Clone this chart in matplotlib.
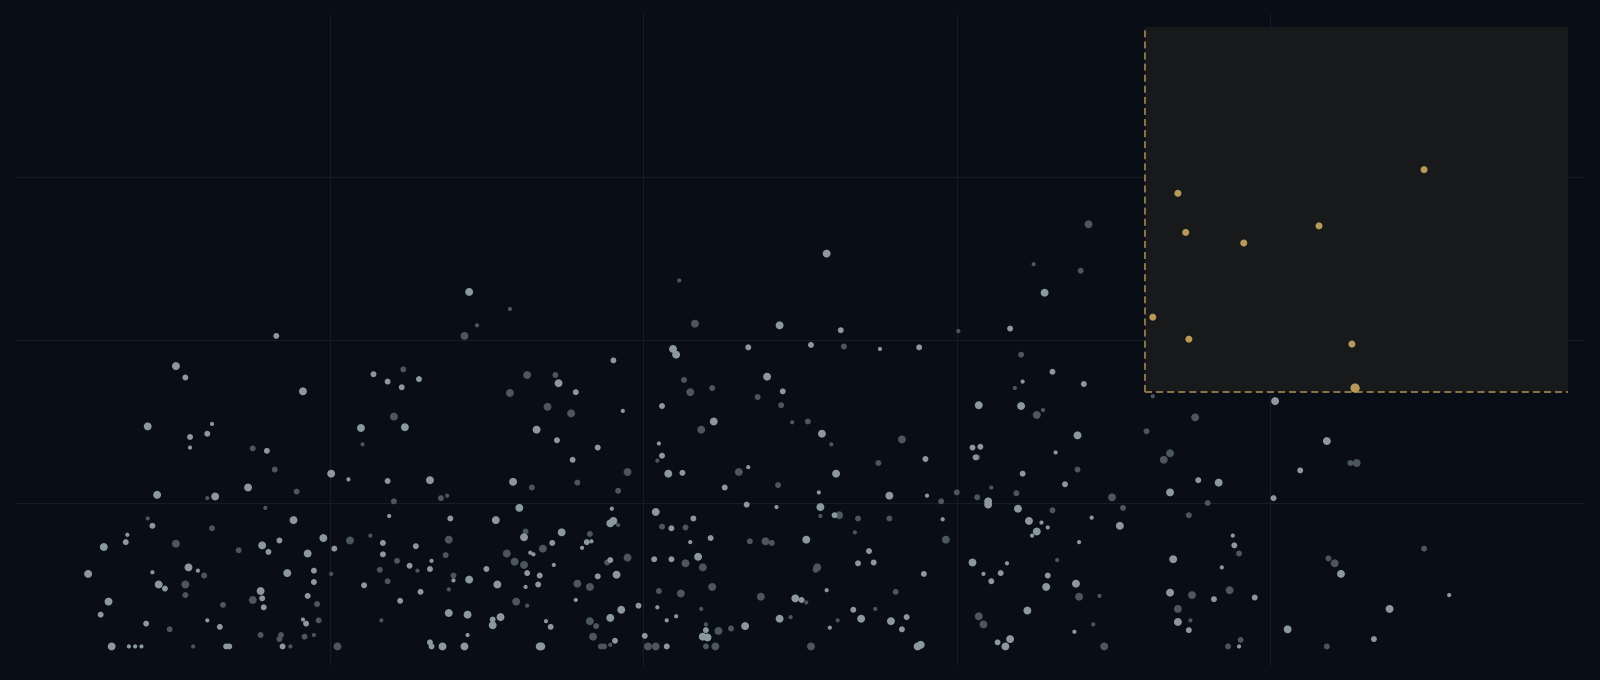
import matplotlib
matplotlib.use('Agg')
import matplotlib.pyplot as plt
from matplotlib.patches import Rectangle

BG = '#090d15'
GRID = '#181d25'
BRIGHT = '#8c989f'
DIM = '#4c565d'
GOLD = '#b8995a'
GOLD_EDGE = '#8c7548'
ZONE_FILL = '#18191a'

# bright points: x, y, weight (1 small .. 3 large)
bright_x = [28.9, 16.6, 10.2, 10.8, 22.8, 23.7, 25.7, 24.6, 18.3, 8.4, 12.5, 11.1, 12.2, 11.1, 16.0, 22.0, 24.8,
            20.1, 21.2, 23.7, 26.4, 31.7, 9.0, 12.7, 14.8, 32.1, 30.6, 27.7, 23.8, 17.7, 8.7, 7.1, 7.0, 5.6, 15.7,
            16.1, 16.8, 19.6, 20.3, 18.6, 23.4, 25.5, 23.4, 32.4, 32.6, 26.5, 26.4, 25.1, 30.0, 28.9, 27.9, 30.7,
            32.5, 22.2, 19.0, 19.0, 17.3, 4.6, 8.7, 11.0, 11.6, 9.1, 9.5, 15.6, 15.7, 15.8, 18.6, 25.8, 24.5, 27.6,
            28.8, 30.9, 30.4, 30.4, 28.8, 5.9, 5.4, 8.3, 12.2, 13.0, 18.3, 18.5, 26.4,
            6.1, 7.2, 7.6, 8.0, 13.4, 13.6, 17.0, 26.5, 27.2, 28.6,
            51.7, 48.7, 52.6, 41.9, 42.1, 46.7, 50.7, 55.1, 57.6, 38.1, 34.6, 35.7, 38.7, 33.2, 34.5, 37.1, 47.9,
            48.9, 41.2, 44.5, 51.4, 61.4, 61.0, 61.5, 61.2, 58.0, 41.0, 41.2,
            35.5, 41.6, 42.5, 46.7, 52.3, 45.2, 51.2, 55.7, 58.1, 62.0, 62.0, 59.1, 46.6, 48.5, 51.3, 52.2, 50.4,
            54.4, 53.7, 54.7, 57.9, 61.0, 61.7, 51.7, 49.7, 50.1, 53.4, 53.9, 55.8, 56.8, 56.5, 51.9, 48.7, 46.5,
            44.0, 43.8, 44.1, 57.5, 57.7, 41.5, 40.1, 42.1, 41.5, 40.9, 40.7, 41.8, 43.5, 43.0, 44.3, 40.8, 41.8,
            43.2, 38.0, 37.9, 38.1, 34.8, 36.4, 36.7, 36.1, 34.2, 32.8, 33.0, 34.3, 33.4, 33.3, 37.1, 38.3, 37.9,
            35.7, 39.7, 38.6, 37.9, 33.8, 34.1, 38.2, 33.4, 33.5,
            65.6, 63.4, 66.1, 64.2, 68.1, 64.1, 67.7, 66.3, 80.3, 83.6,
            81.9, 64.2, 66.9, 63.9, 68.6, 70.4, 64.6, 65.4, 65.1, 65.8, 64.8, 67.8, 73.6, 75.4, 76.7, 80.2, 77.6,
            77.7, 73.8, 76.9, 84.5, 63.2, 62.2, 62.8, 65.8, 65.7, 67.6, 64.5, 73.6, 76.4, 79.0, 74.1, 74.8, 78.0,
            81.1, 86.6, 87.6, 91.4, 67.5, 63.4, 62.6, 63.1]
bright_y = [45.9, 40.5, 36.8, 35.4, 35.8, 34.9, 35.2, 34.2, 33.7, 29.4, 29.7, 28.1, 28.5, 26.8, 26.4, 29.2, 29.3,
            23.6, 22.9, 22.7, 22.8, 22.6, 21.0, 20.8, 21.9, 19.4, 17.9, 18.1, 18.4, 17.9, 17.2, 16.1, 15.2, 14.6, 14.8,
            14.0, 15.4, 15.7, 14.4, 13.8, 15.1, 14.7, 13.7, 15.8, 11.4, 12.9, 11.9, 12.3, 11.9, 10.6, 10.5, 10.0,
            9.7, 9.9, 11.7, 10.3, 11.4, 11.3, 11.5, 12.1, 11.7, 10.0, 9.5, 9.2, 8.3, 7.2, 8.6, 9.1, 8.0, 6.5,
            6.3, 6.0, 5.7, 5.0, 3.8, 7.9, 6.3, 5.2, 5.6, 4.8, 5.7, 5.2, 2.9,
            2.4, 2.4, 2.4, 2.4, 2.4, 2.4, 2.4, 2.4, 2.4, 2.4,
            50.6, 41.8, 41.2, 38.9, 38.2, 39.1, 39.4, 38.9, 39.1, 37.5, 34.7, 33.6, 31.3, 29.0, 27.7, 26.8, 35.5,
            33.7, 31.9, 30.0, 28.5, 32.0, 26.8, 26.9, 25.6, 25.4, 27.3, 25.8,
            25.3, 23.6, 23.7, 24.4, 23.6, 21.9, 21.3, 20.9, 20.9, 20.2, 19.8, 18.0, 19.8, 19.5, 19.5, 18.5, 15.5,
            14.1, 12.6, 12.7, 11.3, 12.7, 11.3, 9.3, 8.3, 8.1, 6.9, 5.8, 5.5, 6.0, 4.5, 4.7, 5.8, 4.9,
            4.4, 3.6, 3.5, 2.4, 2.6, 2.4, 3.7, 6.1, 5.6, 7.2, 13.1, 13.1, 13.4, 15.2, 15.7, 18.9, 16.9,
            18.1, 19.3, 17.5, 17.8, 16.4, 15.2, 15.3, 14.5, 15.1, 13.9, 13.7, 12.4, 11.1, 10.0, 11.0, 11.2, 13.0,
            8.1, 7.4, 6.9, 5.9, 5.5, 4.8, 3.1, 2.4, 2.4,
            45.8, 41.4, 36.1, 34.9, 34.6, 31.9, 28.3, 26.2, 32.5, 27.6,
            24.0, 23.6, 22.3, 19.3, 18.2, 17.2, 17.8, 17.6, 16.5, 17.0, 16.0, 15.2, 21.3, 22.8, 22.5, 20.6, 16.0,
            14.8, 13.1, 12.1, 11.3, 12.6, 10.4, 11.4, 11.1, 9.7, 10.1, 6.8, 9.0, 8.2, 8.4, 5.4, 4.4, 2.4,
            4.5, 3.3, 7.0, 8.7, 4.2, 3.3, 2.9, 2.4]
bright_w = [3, 2, 3, 2, 2, 2, 2, 2, 3, 3, 1, 2, 2, 1, 2, 3, 3,
            3, 1, 2, 3, 3, 3, 3, 3, 3, 3, 2, 1, 3, 2, 1, 2, 3, 3,
            2, 2, 3, 2, 3, 2, 2, 2, 3, 2, 1, 2, 2, 2, 3, 1, 3,
            1, 2, 2, 2, 3, 3, 1, 3, 1, 3, 2, 3, 2, 2, 2, 2, 2, 3,
            3, 3, 2, 3, 1, 3, 2, 2, 1, 2, 1, 2, 2,
            3, 1, 1, 1, 2, 2, 2, 2, 3, 3,
            3, 3, 2, 3, 3, 2, 2, 1, 2, 2, 3, 2, 1, 3, 2, 2, 3,
            2, 2, 3, 3, 3, 2, 2, 2, 2, 1, 2,
            2, 3, 2, 1, 3, 2, 1, 3, 1, 3, 3, 1, 2, 1, 3, 2, 3,
            2, 2, 2, 2, 3, 1, 1, 3, 2, 2, 3, 3, 2, 2, 1, 3, 3,
            2, 3, 3, 3, 3, 2, 2, 1, 1, 1, 2, 2, 3, 1, 2, 3, 2,
            2, 1, 3, 3, 3, 2, 1, 1, 2, 1, 1, 1, 2, 2, 2, 3, 2,
            1, 2, 3, 3, 1, 2, 2, 3, 3,
            3, 2, 2, 1, 2, 3, 3, 1, 3, 3,
            2, 2, 2, 3, 1, 3, 3, 1, 3, 1, 1, 1, 3, 2, 3, 2, 1,
            2, 3, 1, 3, 1, 2, 2, 2, 3, 3, 3, 3, 2, 2, 3, 2, 1,
            3, 2, 3, 1, 1, 3, 2, 3]

# dimmer points
dim_x = [31.5, 29.4, 28.6, 24.7, 32.6, 31.5, 15.1, 24.1, 22.1, 16.5,
         12.2, 17.9, 24.1, 27.1, 27.5, 15.9, 12.5, 8.4, 10.2, 14.2, 21.3, 22.6, 27.6, 27.4, 32.5, 31.3, 31.8,
         32.4, 25.6, 24.3, 23.2, 23.7, 27.9, 27.6, 20.1, 12.0, 10.8, 10.8, 15.1, 13.2, 19.2, 31.9, 32.6, 9.8,
         19.3, 23.3, 15.6, 16.9, 16.8, 18.4, 19.0, 11.3, 17.5, 20.5,
         42.3, 43.3, 60.1, 52.8, 34.4, 33.9, 35.4, 42.6, 43.0, 44.4, 47.3, 48.8, 43.7, 49.5, 50.5, 52.0, 56.5, 61.3,
         40.9, 55.0, 39.0, 46.1, 32.9, 35.8, 38.4, 48.6, 60.0, 61.3, 59.0, 59.3, 51.3, 52.5, 53.7, 55.7, 53.5,
         47.8, 48.2, 46.8, 51.1, 51.0, 56.1, 50.4, 47.5, 54.8, 52.4, 49.4, 45.6, 44.8, 44.0, 61.4, 61.7, 50.7,
         44.6, 44.0, 40.8, 40.3, 42.4, 41.0, 43.7, 44.4, 42.7, 43.8, 41.2, 42.7, 38.4, 36.6, 33.6, 35.8, 36.6,
         37.7, 39.0, 36.6, 37.0, 36.8, 37.9, 37.3, 37.5,
         68.4, 64.9, 67.9, 64.1, 63.7, 65.1, 65.5, 72.5, 75.2, 72.1, 73.6, 73.2,
         85.1, 85.5, 67.7, 62.2, 63.8, 66.1, 69.9, 70.6, 76.0, 74.8, 78.0, 89.8, 83.7, 84.1, 66.4, 67.8, 69.1,
         75.0, 77.4, 74.1, 74.9, 78.1, 77.3, 83.6, 68.7, 69.4]
dim_y = [43.8, 41.8, 40.5, 36.4, 35.7, 33.5, 26.7, 30.6, 27.2, 24.1,
         20.6, 21.4, 20.2, 20.6, 20.9, 19.4, 16.9, 18.1, 15.0, 14.2, 15.4, 16.0, 15.5, 13.6, 16.5, 13.8, 12.8,
         12.4, 11.7, 12.9, 11.8, 10.4, 11.1, 9.4, 11.3, 11.1, 10.0, 8.7, 8.1, 7.5, 7.6, 7.9, 7.4, 4.5,
         5.6, 5.6, 3.8, 3.8, 3.3, 3.6, 3.8, 2.4, 2.4, 2.4,
         47.3, 42.0, 41.1, 39.2, 35.7, 31.8, 31.0, 35.1, 33.6, 34.1, 33.0, 32.0, 29.0, 29.9, 30.0, 27.2, 27.8, 25.6,
         25.2, 24.9, 23.8, 23.8, 21.9, 22.5, 21.5, 22.2, 21.3, 20.7, 20.2, 15.5, 18.4, 18.5, 18.1, 18.1, 16.4,
         15.3, 15.1, 15.3, 12.1, 11.8, 9.1, 7.8, 8.5, 7.0, 5.6, 6.0, 4.6, 4.3, 5.1, 6.1, 5.1, 2.4,
         2.4, 2.4, 2.4, 2.4, 8.9, 9.2, 7.0, 9.7, 12.6, 12.1, 17.1, 17.0, 17.3, 16.2, 14.4, 10.1, 9.7,
         12.7, 13.3, 5.5, 4.9, 3.6, 2.6, 2.4, 2.4,
         54.2, 49.3, 48.5, 38.2, 34.1, 30.8, 31.4, 33.1, 30.5, 28.8, 26.1, 25.3,
         24.9, 24.9, 24.1, 21.9, 21.2, 19.1, 20.7, 19.4, 20.0, 18.5, 13.8, 14.4, 13.2, 12.6, 13.0, 8.5, 8.6,
         8.7, 9.3, 7.0, 5.6, 3.2, 2.4, 2.4, 5.1, 2.4]
dim_w = [1, 1, 3, 2, 3, 3, 2, 3, 1, 2,
         1, 2, 2, 2, 1, 1, 2, 1, 3, 2, 3, 1, 3, 2, 2, 3, 3,
         3, 1, 2, 2, 2, 2, 1, 1, 2, 3, 2, 3, 2, 2, 3, 1, 2,
         2, 1, 2, 2, 2, 2, 1, 1, 1, 3,
         1, 3, 1, 2, 2, 3, 3, 2, 3, 2, 2, 2, 3, 1, 2, 1, 3, 2,
         1, 2, 3, 3, 2, 2, 2, 2, 2, 2, 2, 3, 1, 3, 2, 2, 1,
         3, 2, 2, 3, 2, 2, 1, 3, 1, 1, 1, 2, 3, 1, 3, 3, 3,
         3, 2, 3, 3, 3, 2, 1, 3, 3, 3, 2, 2, 1, 2, 3, 3, 3,
         2, 3, 3, 2, 3, 1, 2, 2,
         3, 1, 2, 2, 1, 3, 1, 1, 3, 2, 3, 3,
         2, 3, 2, 1, 2, 2, 3, 2, 2, 2, 2, 2, 2, 3, 1, 3, 1,
         3, 3, 3, 1, 2, 2, 2, 1, 3]

# points inside the highlighted zone
gold_x = [89.8, 74.1, 74.6, 78.3, 83.1, 72.5, 74.8, 85.2, 85.4]
gold_y = [60.9, 58.0, 53.2, 51.9, 54.0, 42.8, 40.1, 39.5, 34.1]
gold_w = [2, 2, 2, 2, 2, 2, 2, 2, 3]

# highlighted zone bounds
zone_x = (72.0, 99.0)
zone_y = (33.65, 78.4)

SIZE = {1: 9, 2: 18, 3: 32}


def sizes(weights, scale=1.0):
    return [SIZE[w] * scale for w in weights]


fig = plt.figure(figsize=(16, 6.8), dpi=100, facecolor=BG)
ax = fig.add_axes([0.01, 0.0206, 0.98, 0.9588])
ax.set_facecolor(BG)
ax.set_xlim(0, 100)
ax.set_ylim(0, 80)
ax.set_xticks([20, 40, 60, 80])
ax.set_yticks([20, 40, 60])
ax.grid(True, color=GRID, linewidth=0.8)
ax.set_axisbelow(True)
ax.tick_params(length=0, labelbottom=False, labelleft=False)
for sp in ax.spines.values():
    sp.set_visible(False)

# zone background and dashed edges (left + bottom)
ax.add_patch(Rectangle((zone_x[0], zone_y[0]), zone_x[1] - zone_x[0], zone_y[1] - zone_y[0],
                       facecolor=ZONE_FILL, edgecolor='none', zorder=0.2))
ax.plot([zone_x[0], zone_x[0]], [zone_y[0], zone_y[1]], color=GOLD_EDGE, lw=1.4,
        dashes=(3.6, 2.1), zorder=1)
ax.plot([zone_x[0], zone_x[1]], [zone_y[0], zone_y[0]], color=GOLD_EDGE, lw=1.4,
        dashes=(3.6, 2.1), zorder=1)

ax.scatter(dim_x, dim_y, s=sizes(dim_w), color=DIM, linewidths=0, zorder=2)
ax.scatter(bright_x, bright_y, s=sizes(bright_w), color=BRIGHT, linewidths=0, zorder=3)
ax.scatter(gold_x, gold_y, s=sizes(gold_w, 1.4), color=GOLD, linewidths=0, zorder=4)

plt.savefig('out.png', dpi=100, facecolor=BG)
plt.close()
